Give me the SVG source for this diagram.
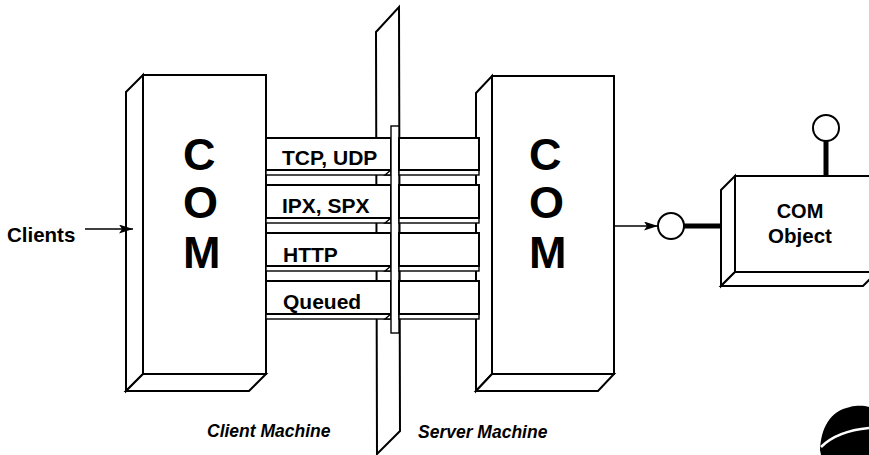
<svg xmlns="http://www.w3.org/2000/svg" width="869" height="455" viewBox="0 0 869 455">
<defs>
<style>
.s{fill:#fff;stroke:#000;stroke-width:2;stroke-linejoin:miter}
.f{fill:#fff;stroke:#000;stroke-width:1.4}
.t{font-family:"Liberation Sans",Arial,sans-serif;font-weight:bold;fill:#000}
.big{font-size:45px}
.lab{font-size:21px}
.it{font-size:17.5px;font-style:italic}
.ln{stroke:#000;stroke-width:1.5;fill:none}
.thick{stroke:#000;stroke-width:5;fill:none}
</style>
<marker id="ah" viewBox="0 0 14 9" refX="14" refY="4.5" markerWidth="14" markerHeight="9" markerUnits="userSpaceOnUse" orient="auto">
<path d="M0,0 L14,4.5 L0,9 L3,4.5 Z" fill="#000"/>
</marker>
</defs>
<rect width="869" height="455" fill="#fff"/>

<g id="plane">
<polygon class="s" points="376,32 399,7 400,431 377,454"/>
</g>

<g id="client-com">
<polygon class="s" points="126,92 143,75 143,374 126,391"/>
<polygon class="s" points="126,391 143,374 266,374 249,391"/>
<rect class="s" x="143" y="75" width="123" height="299"/>
<text class="t big" x="183" y="170">C</text>
<text class="t big" x="183" y="218">O</text>
<text class="t big" x="183" y="268">M</text>
</g>

<g id="server-com">
<polygon class="s" points="476,93 492,76 492,374 476,391"/>
<polygon class="s" points="476,391 492,374 614,374 598,391"/>
<rect class="s" x="492" y="76" width="122" height="298"/>
<text class="t big" x="529" y="170">C</text>
<text class="t big" x="529" y="218">O</text>
<text class="t big" x="529" y="268">M</text>
</g>

<g id="channels-left">
<rect class="f" x="266" y="170" width="125" height="5"/>
<rect class="s" x="266" y="138" width="125" height="32"/>
<polygon class="f" points="385,175 391,170 391,175"/>
<rect class="f" x="266" y="218" width="125" height="5"/>
<rect class="s" x="266" y="185" width="125" height="33"/>
<polygon class="f" points="385,223 391,218 391,223"/>
<rect class="f" x="266" y="266" width="125" height="5"/>
<rect class="s" x="266" y="233" width="125" height="33"/>
<polygon class="f" points="385,271 391,266 391,271"/>
<rect class="f" x="266" y="314" width="125" height="5"/>
<rect class="s" x="266" y="281" width="125" height="33"/>
<polygon class="f" points="385,319 391,314 391,319"/>
</g>

<g id="slab">
<rect class="f" x="391" y="126" width="8" height="207"/>
</g>

<g id="channels-right">
<rect class="f" x="399" y="170" width="80" height="5"/>
<rect class="s" x="399" y="138" width="80" height="32"/>
<rect class="f" x="399" y="218" width="80" height="5"/>
<rect class="s" x="399" y="185" width="80" height="33"/>
<rect class="f" x="399" y="266" width="80" height="5"/>
<rect class="s" x="399" y="233" width="80" height="33"/>
<rect class="f" x="399" y="314" width="80" height="5"/>
<rect class="s" x="399" y="281" width="80" height="33"/>
</g>

<g id="channel-labels">
<text class="t lab" x="282" y="165">TCP, UDP</text>
<text class="t lab" x="282" y="213">IPX, SPX</text>
<text class="t lab" x="283" y="262">HTTP</text>
<text class="t lab" x="283" y="309">Queued</text>
</g>

<g id="com-object">
<polygon class="s" points="721,190 735,176 735,272 721,286"/>
<polygon class="s" points="721,286 735,272 877,272 863,286"/>
<rect class="s" x="735" y="176" width="142" height="96"/>
<text class="t" style="font-size:20px" x="800" y="218" text-anchor="middle">COM</text>
<text class="t" style="font-size:20.5px" x="800" y="243" text-anchor="middle">Object</text>
</g>

<g id="interfaces">
<line class="thick" x1="826" y1="141" x2="826" y2="176"/>
<circle class="s" cx="826" cy="128" r="13" stroke-width="1.8"/>
<line class="thick" x1="684" y1="226" x2="721" y2="226"/>
<circle class="s" cx="671" cy="226" r="13" stroke-width="1.8"/>
</g>

<g id="connectors">
<line class="ln" x1="85" y1="229" x2="133" y2="229" marker-end="url(#ah)"/>
<line class="ln" x1="614" y1="226" x2="658" y2="226" marker-end="url(#ah)"/>
</g>

<g id="labels">
<text class="t" style="font-size:20.5px" x="7" y="242">Clients</text>
<text class="t it" x="207" y="437">Client Machine</text>
<text class="t it" x="418" y="438">Server Machine</text>
</g>

<g id="blob">
<path d="M820,450 C821,428 830,411 850,407 C858,405 865,406 869,407 L869,455 L821,455 Z" fill="#000"/>
<path d="M821,447 C832,436 848,430 869,428" stroke="#fff" stroke-width="2.5" fill="none"/>
</g>
</svg>
